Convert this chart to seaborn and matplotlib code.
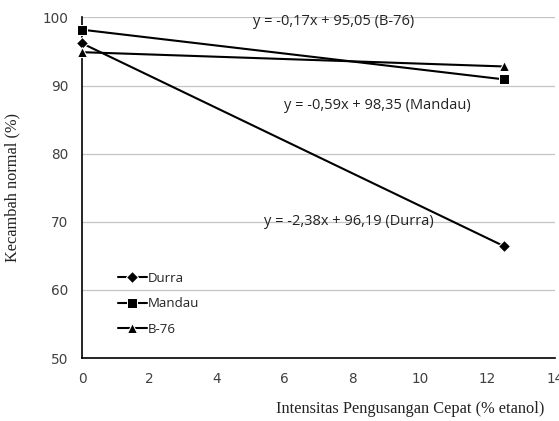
import numpy as np
import pandas as pd
import matplotlib
matplotlib.use("Agg")
import matplotlib.pyplot as plt
import seaborn as sns

x_vals = [0, 12.5]
durra = [96.2, 66.4]
mandau = [98.2, 90.9]
b76 = [94.9, 92.8]
series_names = ["Durra", "Mandau", "B-76"]
equations = ["y = -0,17x + 95,05 (B-76)", "y = -0,59x + 98,35 (Mandau)", "y = -2,38x + 96,19 (Durra)"]
x_ticks = [0, 2, 4, 6, 8, 10, 12, 14]
y_ticks = [50, 60, 70, 80, 90, 100]

df = pd.DataFrame({
    "x": x_vals * 3,
    "y": durra + mandau + b76,
    "series": [s for s in series_names for _ in x_vals],
})

sns.set_style("white")
fig = plt.figure(figsize=(5.59, 4.21), dpi=100)
ax = fig.add_axes([0.1467, 0.1496, 0.846, 0.809])

sns.lineplot(data=df, x="x", y="y", hue="series", style="series",
             palette=["black"] * 3, markers={"Durra": "D", "Mandau": "s", "B-76": "^"},
             dashes=False, markersize=6.5, linewidth=1.5, ax=ax, legend=True)
for ln in ax.lines:
    ln.set_clip_on(False)
    ln.set_zorder(5)

ax.set_xlim(0, 14)
ax.set_ylim(50, 100)
ax.set_xticks(x_ticks)
ax.set_yticks(y_ticks)
ax.yaxis.grid(True, color="#c4c4c4", linewidth=0.9)
ax.xaxis.grid(False)
ax.set_axisbelow(True)
for s in ["top", "right"]:
    ax.spines[s].set_visible(False)
for s in ["left", "bottom"]:
    ax.spines[s].set_color("black")
    ax.spines[s].set_linewidth(1.2)
ax.tick_params(axis="both", direction="out", length=4, width=1, colors="black",
               labelsize=9.8, pad=6)
for lab in ax.get_xticklabels() + ax.get_yticklabels():
    lab.set_family("DejaVu Sans")
    lab.set_color("#404040")

ax.set_xlabel("Intensitas Pengusangan Cepat (% etanol)", family="Liberation Serif",
              fontsize=11.8, color="#222222")
ax.xaxis.set_label_coords(0.695, -0.125)
ax.set_ylabel("Kecambah normal (%)", family="Liberation Serif", fontsize=11.8, color="#222222")
ax.yaxis.set_label_coords(-0.13, 0.5)

ax.text(7.45, 99.4, equations[0], family="Open Sans", fontsize=10.5, ha="center", va="center", color="#222222")
ax.text(8.73, 87.1, equations[1], family="Open Sans", fontsize=10.5, ha="center", va="center", color="#222222")
ax.text(7.9, 70.1, equations[2], family="Open Sans", fontsize=10.5, ha="center", va="center", color="#222222")

leg = ax.legend(loc="lower left", bbox_to_anchor=(0.05, 0.03), frameon=False,
                prop={"family": "Open Sans", "size": 9.5}, handlelength=2.2,
                handletextpad=0.1, labelspacing=0.95)
for t in leg.get_texts():
    t.set_color("#222222")

fig.savefig("out.png", dpi=100)
